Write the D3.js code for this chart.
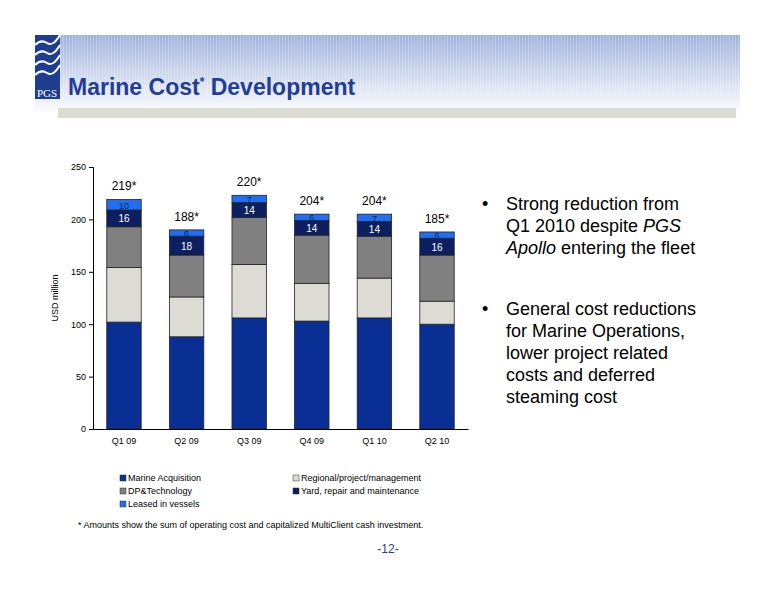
<!DOCTYPE html>
<html><head><meta charset="utf-8">
<script src="https://cdn.jsdelivr.net/npm/d3@7"></script>
<style>body{margin:0;background:#fff}svg{font-family:Arial,"Liberation Sans",sans-serif}</style>
</head><body>
<svg width="776" height="600"></svg>
<script>
var quarters = ["Q1 09","Q2 09","Q3 09","Q4 09","Q1 10","Q2 10"];
var marineAcq = [102, 88, 106, 103, 106, 100];
var regional = [52, 38, 51, 36, 38, 22];
var dpTech = [39, 40, 45, 46, 40, 44];
var yard = [16, 18, 14, 14, 14, 16];
var leased = [10, 6, 7, 6, 7, 6];
var totals = ["219*","188*","220*","204*","204*","185*"];
var yTicks = [0, 50, 100, 150, 200, 250];
var seriesNames = ["Marine Acquisition","Regional/project/management","DP&Technology","Yard, repair and maintenance","Leased in vessels"];
var colors = ["#0a2f94","#dddcd4","#808080","#0c1f60","#1f6ff0"];

var svg = d3.select("svg");

// header band
var defs = svg.append("defs");
var g1 = defs.append("linearGradient").attr("id","hdr").attr("x1",0).attr("y1",0).attr("x2",0).attr("y2",1);
g1.append("stop").attr("offset","0%").attr("stop-color","#9fb2dc");
g1.append("stop").attr("offset","75%").attr("stop-color","#e8edf6");
g1.append("stop").attr("offset","100%").attr("stop-color","#ffffff");
var pat = defs.append("pattern").attr("id","str").attr("width",3).attr("height",10).attr("patternUnits","userSpaceOnUse");
pat.append("rect").attr("width",1).attr("height",10).attr("fill","#ffffff").attr("opacity",0.25);
svg.append("rect").attr("x",35).attr("y",35).attr("width",705).attr("height",80).attr("fill","url(#hdr)");
svg.append("rect").attr("x",35).attr("y",35).attr("width",705).attr("height",60).attr("fill","url(#str)");
svg.append("rect").attr("x",58).attr("y",108).attr("width",678).attr("height",10).attr("fill","#dcdcd4");
svg.append("rect").attr("x",58).attr("y",118).attr("width",678).attr("height",440).attr("fill","#fff");
// logo
svg.append("rect").attr("x",35).attr("y",35).attr("width",25).attr("height",64).attr("fill","#1f3d8f");
[45,55,65,75].forEach(function(y){
  svg.append("path").attr("d","M35,"+y+" q6,-6 12,-2 t13,-8").attr("stroke","#fff").attr("stroke-width",2).attr("fill","none");
});
svg.append("text").attr("x",37).attr("y",97).attr("fill","#fff").attr("font-family","Times New Roman,Liberation Serif,serif").attr("font-size",11).text("PGS");
var t = svg.append("text").attr("x",68).attr("y",95).attr("fill","#1f3d99").attr("font-weight","bold").attr("font-size",23);
t.append("tspan").text("Marine Cost");
t.append("tspan").attr("font-size",12).attr("dy",-9).text("*");
t.append("tspan").attr("dy",9).text(" Development");

// chart
var x = d3.scaleBand().domain(quarters).range([93, 468]).paddingInner(0.45).paddingOuter(0.22);
var y = d3.scaleLinear().domain([0, 250]).range([429, 167]);

var rows = quarters.map(function(q, i){
  return {q:q, v:[marineAcq[i], regional[i], dpTech[i], yard[i], leased[i]]};
});
var stack = d3.stack().keys([0,1,2,3,4]).value(function(d,k){ return d.v[k]; });
var layers = stack(rows);

var lg = svg.selectAll(".layer").data(layers).enter().append("g").attr("fill", function(d,i){ return colors[i]; });
lg.selectAll("rect").data(function(d){ return d; }).enter().append("rect")
  .attr("x", function(d){ return x(d.data.q); })
  .attr("y", function(d){ return y(d[1]); })
  .attr("height", function(d){ return y(d[0]) - y(d[1]); })
  .attr("width", x.bandwidth())
  .attr("stroke","#222").attr("stroke-width",0.8);

// labels on yard and leased
[3,4].forEach(function(k){
  svg.selectAll(".lab"+k).data(layers[k]).enter().append("text")
    .attr("x", function(d){ return x(d.data.q) + x.bandwidth()/2; })
    .attr("y", function(d){ return (y(d[0]) + y(d[1]))/2 + 4; })
    .attr("text-anchor","middle").attr("font-size",k==3?10:9)
    .attr("fill", k==3 ? "#fff" : "#0c1f60")
    .text(function(d){ return d.data.v[k]; });
});
svg.selectAll(".tot").data(layers[4]).enter().append("text")
  .attr("x", function(d){ return x(d.data.q) + x.bandwidth()/2; })
  .attr("y", function(d){ return y(d[1]) - 9; })
  .attr("text-anchor","middle").attr("font-size",12).attr("fill","#000")
  .text(function(d,i){ return totals[i]; });

var ya = svg.append("g").attr("transform","translate(93,0)")
  .call(d3.axisLeft(y).tickValues(yTicks).tickSize(4));
var xa = svg.append("g").attr("transform","translate(0,429)")
  .call(d3.axisBottom(x).tickSize(0).tickPadding(9));
[ya, xa].forEach(function(a){
  a.selectAll("text").attr("font-size",9).attr("fill","#000");
  a.selectAll("path,line").attr("stroke","#000");
});
svg.append("text").attr("transform","translate(58,298) rotate(-90)").attr("text-anchor","middle").attr("font-size",9).text("USD million");

// legend
var legPos = [[120,481],[293,481],[120,494],[293,494],[120,507]];
seriesNames.forEach(function(n,i){
  svg.append("rect").attr("x",legPos[i][0]).attr("y",legPos[i][1]-6).attr("width",6).attr("height",6).attr("fill",colors[i]).attr("stroke","#333").attr("stroke-width",0.5);
  svg.append("text").attr("x",legPos[i][0]+8).attr("y",legPos[i][1]).attr("font-size",9).text(n);
});
svg.append("text").attr("x",78).attr("y",528).attr("font-size",9).text("* Amounts show the sum of operating cost and capitalized MultiClient cash investment.");
svg.append("text").attr("x",388).attr("y",553).attr("text-anchor","middle").attr("font-size",12).attr("fill","#1f3d99").text("-12-");

// bullets
var b1 = [["Strong reduction from"],["Q1 2010 despite ",{i:"PGS"}],[{i:"Apollo"}," entering the fleet"]];
var b2 = [["General cost reductions"],["for Marine Operations,"],["lower project related"],["costs and deferred"],["steaming cost"]];
function bullet(lines, y0){
  svg.append("text").attr("x",482).attr("y",y0).attr("font-size",18).text("•");
  lines.forEach(function(l,j){
    var tx = svg.append("text").attr("x",506).attr("y",y0 + j*22).attr("font-size",18);
    l.forEach(function(p){
      if (typeof p === "string") tx.append("tspan").text(p);
      else tx.append("tspan").attr("font-style","italic").text(p.i);
    });
  });
}
bullet(b1, 210);
bullet(b2, 315);
</script>
</body></html>
